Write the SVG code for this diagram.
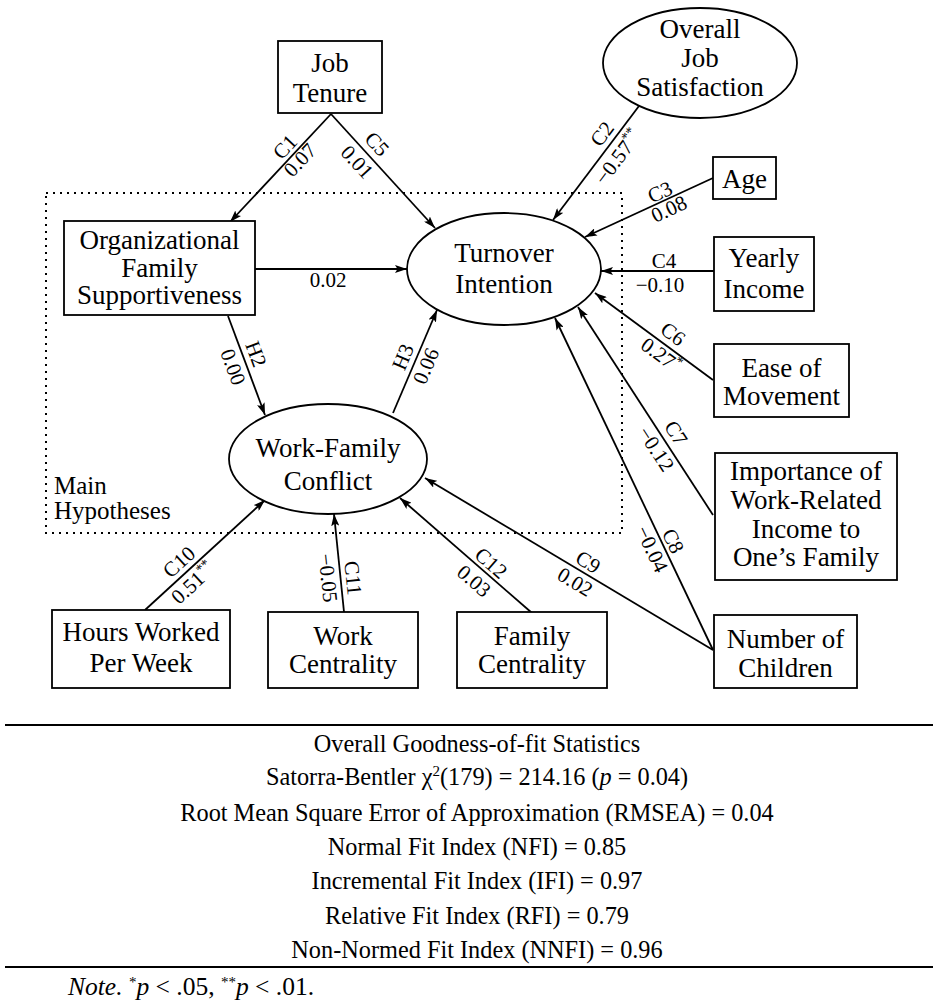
<svg xmlns="http://www.w3.org/2000/svg" width="933" height="1002" viewBox="0 0 933 1002">
<style>
.nt{font-family:"Liberation Serif","Times New Roman",serif;font-size:27px;text-anchor:middle;fill:#000}
.lb{font-family:"Liberation Serif","Times New Roman",serif;font-size:21px;text-anchor:middle;fill:#000}
.st{font-family:"Liberation Serif","Times New Roman",serif;font-size:24.3px;text-anchor:middle;fill:#000}
.box{fill:#fff;stroke:#000;stroke-width:1.8}
.con path{fill:none;stroke:#000;stroke-width:1.8;marker-end:url(#ah)}
.rule{stroke:#000;stroke-width:2}
</style>
<defs>
<marker id="ah" viewBox="0 0 12 8" refX="12" refY="4" markerWidth="12" markerHeight="8" orient="auto" markerUnits="userSpaceOnUse">
<path d="M0,0 L12,4 L0,8 L2.5,4 z" fill="#000"/>
</marker>
</defs>
<rect width="933" height="1002" fill="#fff"/>

<g id="main-hypotheses">
<rect x="46" y="193" width="576" height="340" fill="none" stroke="#000" stroke-width="2" stroke-dasharray="2 5"/>
<text class="nt" style="text-anchor:start;font-size:25px" x="54" y="494">Main</text>
<text class="nt" style="text-anchor:start;font-size:25px" x="54" y="519">Hypotheses</text>
</g>

<g id="connectors" class="con">
<path d="M331,114 L230,222"/>
<path d="M331,114 L435,228"/>
<path d="M639,106 L553,220"/>
<path d="M713,178 L585,237"/>
<path d="M714,271 L601,271"/>
<path d="M713,380 L595,293"/>
<path d="M713,515 L578,307"/>
<path d="M713,650 L555,318"/>
<path d="M713,650 L425,478"/>
<path d="M255,269 L407,269"/>
<path d="M228,316 L265,415"/>
<path d="M393,413 L437,310"/>
<path d="M145,610 L265,500"/>
<path d="M344,612 L334,514"/>
<path d="M532,613 L400,498"/>
</g>

<g id="edge-labels">
<g transform="translate(285,147) rotate(-47)"><text class="lb" x="0" y="7">C1</text></g>
<g transform="translate(300,160) rotate(-47)"><text class="lb" x="0" y="7">0.07</text></g>
<g transform="translate(377,144) rotate(47.6)"><text class="lb" x="0" y="7">C5</text></g>
<g transform="translate(357,162) rotate(47.6)"><text class="lb" x="0" y="7">0.01</text></g>
<g transform="translate(602,134) rotate(-53)"><text class="lb" x="0" y="7">C2</text></g>
<g transform="translate(618,157) rotate(-53)"><text class="lb" x="0" y="7">−0.57<tspan font-size="14" dy="-8">**</tspan></text></g>
<g transform="translate(660,192) rotate(-24.7)"><text class="lb" x="0" y="7">C3</text></g>
<g transform="translate(669,209) rotate(-24.7)"><text class="lb" x="0" y="7">0.08</text></g>
<text class="lb" x="664" y="268">C4</text>
<text class="lb" x="660" y="292">−0.10</text>
<g transform="translate(673,334) rotate(36.4)"><text class="lb" x="0" y="7">C6</text></g>
<g transform="translate(661,355) rotate(36.4)"><text class="lb" x="0" y="7">0.27<tspan font-size="14" dy="-8">*</tspan></text></g>
<g transform="translate(676,433) rotate(57)"><text class="lb" x="0" y="7">C7</text></g>
<g transform="translate(656,449) rotate(57)"><text class="lb" x="0" y="7">−0.12</text></g>
<g transform="translate(673,541) rotate(64.6)"><text class="lb" x="0" y="7">C8</text></g>
<g transform="translate(652,549) rotate(64.6)"><text class="lb" x="0" y="7">−0.04</text></g>
<g transform="translate(588,562) rotate(31)"><text class="lb" x="0" y="7">C9</text></g>
<g transform="translate(575,582) rotate(31)"><text class="lb" x="0" y="7">0.02</text></g>
<text class="lb" x="328" y="287">0.02</text>
<g transform="translate(256,354) rotate(69.5)"><text class="lb" x="0" y="7">H2</text></g>
<g transform="translate(233,367) rotate(69.5)"><text class="lb" x="0" y="7">0.00</text></g>
<g transform="translate(403,357) rotate(-67)"><text class="lb" x="0" y="7">H3</text></g>
<g transform="translate(426,366) rotate(-67)"><text class="lb" x="0" y="7">0.06</text></g>
<g transform="translate(179,562) rotate(-42.5)"><text class="lb" x="0" y="7">C10</text></g>
<g transform="translate(193,583) rotate(-42.5)"><text class="lb" x="0" y="7">0.51<tspan font-size="14" dy="-8">**</tspan></text></g>
<g transform="translate(353,578) rotate(84)"><text class="lb" x="0" y="7">C11</text></g>
<g transform="translate(328,578) rotate(84)"><text class="lb" x="0" y="7">−0.05</text></g>
<g transform="translate(491,563) rotate(41)"><text class="lb" x="0" y="7">C12</text></g>
<g transform="translate(474,581) rotate(41)"><text class="lb" x="0" y="7">0.03</text></g>
</g>

<g id="job-tenure">
<rect class="box" x="278" y="41" width="104" height="72"/>
<text class="nt" x="330" y="72">Job</text>
<text class="nt" x="330" y="102">Tenure</text>
</g>
<g id="overall-job-satisfaction">
<ellipse class="box" cx="700" cy="63" rx="97" ry="55"/>
<text class="nt" x="700" y="38">Overall</text>
<text class="nt" x="700" y="67">Job</text>
<text class="nt" x="700" y="96">Satisfaction</text>
</g>
<g id="age">
<rect class="box" x="713" y="157" width="63" height="42"/>
<text class="nt" x="744.5" y="188">Age</text>
</g>
<g id="yearly-income">
<rect class="box" x="714" y="237" width="100" height="74"/>
<text class="nt" x="764" y="267">Yearly</text>
<text class="nt" x="764" y="298">Income</text>
</g>
<g id="ease-of-movement">
<rect class="box" x="714" y="344" width="135" height="73"/>
<text class="nt" x="781.5" y="377">Ease of</text>
<text class="nt" x="781.5" y="405">Movement</text>
</g>
<g id="importance-income">
<rect class="box" x="715" y="453" width="182" height="127"/>
<text class="nt" x="806" y="480">Importance of</text>
<text class="nt" x="806" y="509">Work-Related</text>
<text class="nt" x="806" y="538">Income to</text>
<text class="nt" x="806" y="566">One’s Family</text>
</g>
<g id="number-of-children">
<rect class="box" x="714" y="615" width="143" height="73"/>
<text class="nt" x="785.5" y="648">Number of</text>
<text class="nt" x="785.5" y="677">Children</text>
</g>
<g id="hours-worked">
<rect class="box" x="52" y="610" width="178" height="78"/>
<text class="nt" x="141" y="641">Hours Worked</text>
<text class="nt" x="141" y="672">Per Week</text>
</g>
<g id="work-centrality">
<rect class="box" x="268" y="612" width="150" height="76"/>
<text class="nt" x="343" y="645">Work</text>
<text class="nt" x="343" y="673">Centrality</text>
</g>
<g id="family-centrality">
<rect class="box" x="457" y="612" width="150" height="76"/>
<text class="nt" x="532" y="645">Family</text>
<text class="nt" x="532" y="673">Centrality</text>
</g>
<g id="org-family-supportiveness">
<rect class="box" x="64" y="221" width="191" height="94"/>
<text class="nt" x="159.5" y="249">Organizational</text>
<text class="nt" x="159.5" y="277">Family</text>
<text class="nt" x="159.5" y="304">Supportiveness</text>
</g>
<g id="turnover-intention">
<ellipse class="box" cx="504" cy="269" rx="97" ry="56"/>
<text class="nt" x="504" y="262">Turnover</text>
<text class="nt" x="504" y="293">Intention</text>
</g>
<g id="work-family-conflict">
<ellipse class="box" cx="328" cy="459" rx="99" ry="55"/>
<text class="nt" x="328" y="457">Work-Family</text>
<text class="nt" x="328" y="490">Conflict</text>
</g>

<g id="statistics">
<line class="rule" x1="5" y1="725" x2="933" y2="725"/>
<text class="st" x="477" y="752">Overall Goodness-of-fit Statistics</text>
<text class="st" x="477" y="785">Satorra-Bentler χ<tspan font-size="15" dy="-9">2</tspan><tspan dy="9">(179) = 214.16 (</tspan><tspan font-style="italic">p</tspan> = 0.04)</text>
<text class="st" x="477" y="821">Root Mean Square Error of Approximation (RMSEA) = 0.04</text>
<text class="st" x="477" y="855">Normal Fit Index (NFI) = 0.85</text>
<text class="st" x="477" y="889">Incremental Fit Index (IFI) = 0.97</text>
<text class="st" x="477" y="924">Relative Fit Index (RFI) = 0.79</text>
<text class="st" x="477" y="958">Non-Normed Fit Index (NNFI) = 0.96</text>
<line class="rule" x1="5" y1="967" x2="933" y2="967"/>
<text class="st" style="text-anchor:start;font-size:25.5px" x="68" y="995"><tspan font-style="italic">Note.</tspan> <tspan font-size="15" dy="-8">*</tspan><tspan font-style="italic" dy="8">p</tspan> &lt; .05, <tspan font-size="15" dy="-8">**</tspan><tspan font-style="italic" dy="8">p</tspan> &lt; .01.</text>
</g>
</svg>
